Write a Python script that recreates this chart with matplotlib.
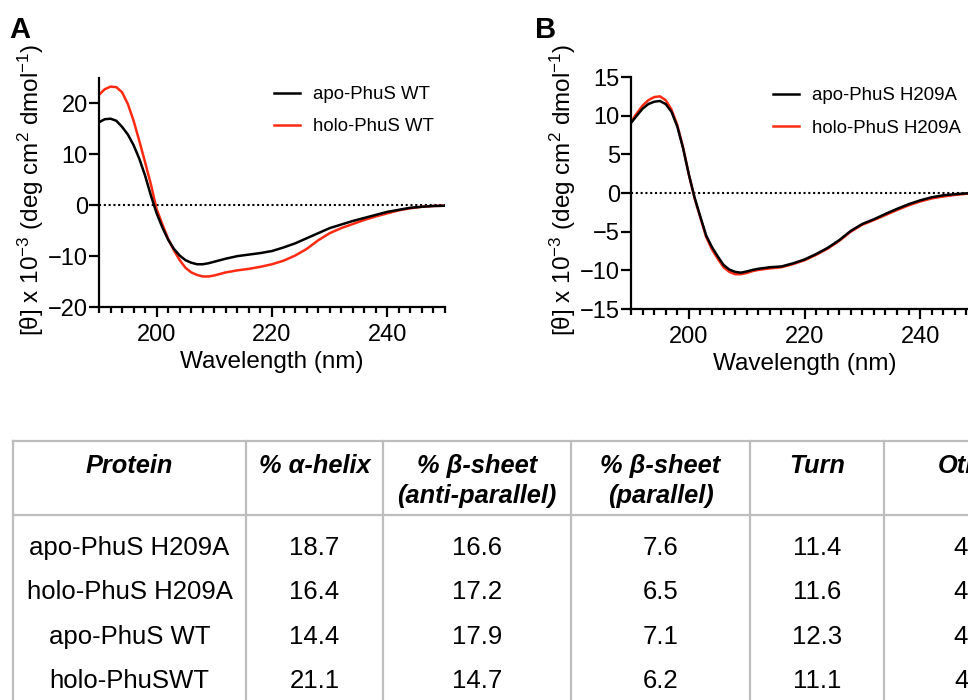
import matplotlib
matplotlib.use("Agg")
import matplotlib.pyplot as plt
from matplotlib.ticker import MultipleLocator

plt.rcParams['font.family'] = ['Liberation Sans', 'DejaVu Sans']
plt.rcParams['mathtext.fontset'] = 'custom'
plt.rcParams['mathtext.rm'] = 'Liberation Sans'
plt.rcParams['mathtext.it'] = 'Liberation Sans:italic'
plt.rcParams['axes.unicode_minus'] = True

RED = '#ff2a12'

# CD spectra (theta x 10^-3)
wl = [190, 191, 192, 193, 194, 195, 196, 197, 198, 199, 200, 201, 202, 203,
      204, 205, 206, 207, 208, 209, 210, 211, 212, 214, 216, 218, 220, 222,
      224, 226, 228, 230, 232, 234, 236, 238, 240, 242, 244, 246, 248, 250]

apo_wt = [16.3, 16.9, 17.0, 16.6, 15.4, 13.9, 11.8, 9.1, 5.8, 1.9, -1.6, -4.4,
          -6.8, -8.6, -9.9, -10.8, -11.3, -11.6, -11.6, -11.4, -11.1, -10.8,
          -10.5, -10.0, -9.7, -9.4, -9.0, -8.3, -7.5, -6.5, -5.5, -4.5, -3.8,
          -3.1, -2.5, -1.9, -1.3, -0.9, -0.5, -0.3, -0.15, -0.1]
holo_wt = [21.7, 22.8, 23.3, 23.2, 22.2, 19.9, 16.6, 12.6, 8.4, 4.1, -0.8, -3.8,
           -6.6, -8.9, -10.8, -12.3, -13.2, -13.7, -14.0, -14.0, -13.8, -13.5,
           -13.2, -12.8, -12.5, -12.1, -11.6, -10.9, -9.9, -8.6, -6.9, -5.5,
           -4.5, -3.7, -2.9, -2.2, -1.6, -1.0, -0.6, -0.3, -0.15, -0.1]

apo_h209a = [9.05, 10.0, 10.9, 11.5, 11.8, 11.9, 11.5, 10.5, 8.6, 5.8, 2.4, -0.6,
             -3.1, -5.5, -7.0, -8.2, -9.3, -9.9, -10.2, -10.3, -10.15, -9.95,
             -9.8, -9.6, -9.5, -9.1, -8.6, -7.9, -7.1, -6.1, -4.9, -4.0, -3.4,
             -2.7, -2.05, -1.45, -0.95, -0.55, -0.3, -0.15, -0.05, 0.0]
holo_h209a = [9.2, 10.3, 11.3, 12.0, 12.4, 12.5, 12.0, 10.8, 8.8, 5.9, 2.4, -0.7,
              -3.2, -5.7, -7.3, -8.5, -9.6, -10.2, -10.5, -10.5, -10.35, -10.1,
              -9.95, -9.75, -9.6, -9.2, -8.7, -8.0, -7.2, -6.2, -5.0, -4.1, -3.5,
              -2.85, -2.2, -1.6, -1.1, -0.7, -0.45, -0.25, -0.1, -0.05]

# secondary structure table
headers = ['Protein', '% α-helix', '% β-sheet\n(anti-parallel)',
           '% β-sheet\n(parallel)', 'Turn', 'Others']
proteins = ['apo-PhuS H209A', 'holo-PhuS H209A', 'apo-PhuS WT', 'holo-PhuSWT']
helix = [18.7, 16.4, 14.4, 21.1]
sheet_anti = [16.6, 17.2, 17.9, 14.7]
sheet_par = [7.6, 6.5, 7.1, 6.2]
turn = [11.4, 11.6, 12.3, 11.1]
others = [45.7, 48.3, 48.3, 46.9]

fig = plt.figure(figsize=(9.68, 7.0), dpi=100)
W, H = 968, 700

# table drawn in pixel coordinates on a full-figure axes
tab = fig.add_axes([0, 0, 1, 1])
tab.set_xlim(0, W)
tab.set_ylim(H, 0)
tab.axis('off')
col_edges = [13, 246, 383, 571, 750, 884, 1074]
grey = '#bdbdbd'
for xe in col_edges:
    tab.plot([xe, xe], [441, H + 5], color=grey, lw=1.6, clip_on=False)
for ye in [441, 515]:
    tab.plot([13, W + 5], [ye, ye], color=grey, lw=1.6, clip_on=False)
centers = [(a + b) / 2 for a, b in zip(col_edges[:-1], col_edges[1:])]
for cx, h in zip(centers, headers):
    tab.text(cx, 454, h, ha='center', va='top', fontsize=18.3,
             fontweight='bold', fontstyle='italic', linespacing=1.3,
             clip_on=False)
row_y = [548, 592, 637, 681]
columns = [proteins, helix, sheet_anti, sheet_par, turn, others]
for cx, vals in zip(centers, columns):
    for ry, v in zip(row_y, vals):
        s = v if isinstance(v, str) else f'{v:.1f}'
        tab.text(cx, ry, s, ha='center', va='center', fontsize=18.5)


def cd_panel(pos, ylim, ystep, s1, s2, labels, leg_x, leg_y):
    ax = fig.add_axes(pos)
    ax.axhline(0, color='black', lw=1.5, ls=(0, (1, 1.3)), zorder=1)
    ax.plot(wl, s1, color='black', lw=1.8, label=labels[0], zorder=3)
    ax.plot(wl, s2, color=RED, lw=1.8, label=labels[1], zorder=2)
    ax.set_xlim(190, 250)
    ax.set_ylim(*ylim)
    ax.xaxis.set_major_locator(MultipleLocator(20))
    ax.xaxis.set_minor_locator(MultipleLocator(2))
    ax.yaxis.set_major_locator(MultipleLocator(ystep))
    for s in ['top', 'right']:
        ax.spines[s].set_visible(False)
    for s in ['left', 'bottom']:
        ax.spines[s].set_linewidth(1.6)
    ax.tick_params(which='major', length=7, width=1.6, labelsize=17)
    ax.tick_params(axis='y', which='major', pad=1)
    ax.tick_params(axis='x', which='major', pad=5)
    ax.tick_params(which='minor', length=4, width=1.6)
    ax.set_xlabel('Wavelength (nm)', fontsize=17.5, labelpad=4)
    ax.patch.set_visible(False)
    ax.legend(loc='upper left', bbox_to_anchor=(leg_x, leg_y),
              frameon=False, fontsize=13.4, handlelength=1.4,
              handletextpad=0.7, labelspacing=0.82, borderpad=0,
              borderaxespad=0)
    return ax


axA = cd_panel([99 / W, 1 - 307 / H, 346 / W, 229 / H], (-20, 25), 10,
               apo_wt, holo_wt, ['apo-PhuS WT', 'holo-PhuS WT'], 0.505, 0.965)
axA.set_yticks([-20, -10, 0, 10, 20])
axB = cd_panel([631 / W, 1 - 309 / H, 347 / W, 232 / H], (-15, 15), 5,
               apo_h209a, holo_h209a, ['apo-PhuS H209A', 'holo-PhuS H209A'],
               0.41, 0.955)

ylab = r'[θ] x 10$^{-3}$ (deg cm$^{2}$ dmol$^{-1}$)'
fig.text(31 / W, 1 - 190 / H, ylab, rotation=90, ha='center', va='center',
         fontsize=17.5)
fig.text(563 / W, 1 - 190 / H, ylab, rotation=90, ha='center', va='center',
         fontsize=17.5)
fig.text(9 / W, 1 - 38 / H, 'A', fontsize=21, fontweight='bold')
fig.text(535 / W, 1 - 38 / H, 'B', fontsize=21, fontweight='bold')

fig.savefig('out.png', dpi=100)
